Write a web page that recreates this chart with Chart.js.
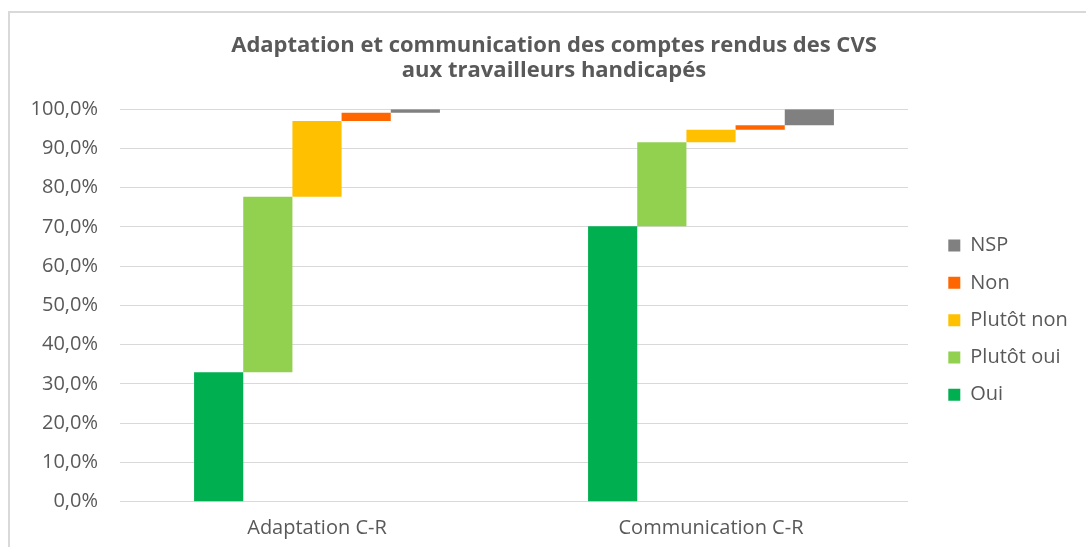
<!DOCTYPE html>
<html>
<head>
<meta charset="utf-8">
<script src="https://cdn.jsdelivr.net/npm/chart.js@4.4.0/dist/chart.umd.min.js"></script>
<style>
  html, body { margin: 0; padding: 0; background: #ffffff; }
  #wrap { position: relative; width: 1086px; height: 547px; overflow: hidden; }
  #frame { position: absolute; left: 8px; top: 11px; width: 1200px; height: 700px;
           border: 2px solid #d9d9d9; box-sizing: border-box; pointer-events: none; }
  canvas { position: absolute; left: 0; top: 0; }
</style>
</head>
<body>
<div id="wrap">
  <canvas id="c" width="1086" height="547"></canvas>
  <div id="frame"></div>
</div>
<script>
// ---- data ----
const categories = ['Adaptation C-R', 'Communication C-R'];
const seriesNames = ['Oui', 'Plutôt oui', 'Plutôt non', 'Non', 'NSP'];
const oui       = [33.0, 70.2];
const plutotOui = [44.7, 21.4];
const plutotNon = [19.3, 3.2];
const non       = [2.1, 1.1];
const nsp       = [0.9, 4.1];
const yTicks    = [0, 10, 20, 30, 40, 50, 60, 70, 80, 90, 100];
const titleLines = ['Adaptation et communication des comptes rendus des CVS', 'aux travailleurs handicapés'];

const seriesValues = [oui, plutotOui, plutotNon, non, nsp];
const colors = ['#00b050', '#92d050', '#ffc000', '#ff6600', '#808080'];

// floating bars: each segment starts where the previous ended (waterfall)
const cumul = categories.map(() => 0);
const datasets = seriesValues.map((vals, si) => {
  const data = vals.map((v, ci) => {
    const start = cumul[ci];
    const end = start + v;
    cumul[ci] = end;
    return [start, end];
  });
  return {
    label: seriesNames[si],
    data: data,
    backgroundColor: colors[si],
    borderWidth: 0,
    categoryPercentage: 0.624,
    barPercentage: 1.0
  };
});

const TEXT = '#595959';
const FONT = '"Open Sans", "DejaVu Sans", sans-serif';

const legendFix = {
  id: 'legendFix',
  afterInit(chart) {
    const lg = chart.legend;
    if (!lg) return;
    const origFit = lg.fit.bind(lg);
    lg.fit = function () { origFit(); this.width = 178; };
  },
  afterLayout(chart) {
    const lg = chart.legend;
    if (lg) {
      const top = chart.chartArea.top + 109;
      lg.left += 23;
      lg.right = lg.left + lg.width;
      lg.top = top;
      lg.bottom = top + 300;
      lg.height = 300;
    }
    const tb = chart.titleBlock;
    if (tb) {
      tb.left += 22;
      tb.width = tb.right - tb.left;
    }
  }
};

new Chart(document.getElementById('c'), {
  type: 'bar',
  data: { labels: categories, datasets: datasets },
  plugins: [legendFix],
  options: {
    responsive: false,
    animation: false,
    devicePixelRatio: 1,
    layout: { padding: 0 },
    plugins: {
      title: {
        display: true,
        text: titleLines,
        color: TEXT,
        font: { family: FONT, size: 22, weight: 'bold', lineHeight: 1.14 },
        padding: { top: 33.5, bottom: 25.6 }
      },
      legend: {
        position: 'right',
        align: 'start',
        reverse: true,
        labels: {
          color: TEXT,
          font: { family: FONT, size: 20 },
          boxWidth: 12,
          boxHeight: 12,
          padding: 17.3
        }
      },
      tooltip: { enabled: false }
    },
    scales: {
      x: {
        grid: { display: false },
        border: { display: false },
        ticks: { color: TEXT, font: { family: FONT, size: 20 }, padding: 7 },
        afterFit: (s) => { s.height = 45.3; }
      },
      y: {
        min: 0,
        max: 100,
        afterBuildTicks: (s) => { s.ticks = yTicks.map(v => ({ value: v })); },
        grid: { color: '#d9d9d9', lineWidth: 1, drawTicks: false },
        border: { display: false },
        ticks: {
          color: TEXT,
          font: { family: FONT, size: 20 },
          padding: 22,
          callback: (v) => v.toFixed(1).replace('.', ',') + '%'
        },
        afterFit: (s) => { s.width = 120; }
      }
    }
  }
});
</script>
</body>
</html>
